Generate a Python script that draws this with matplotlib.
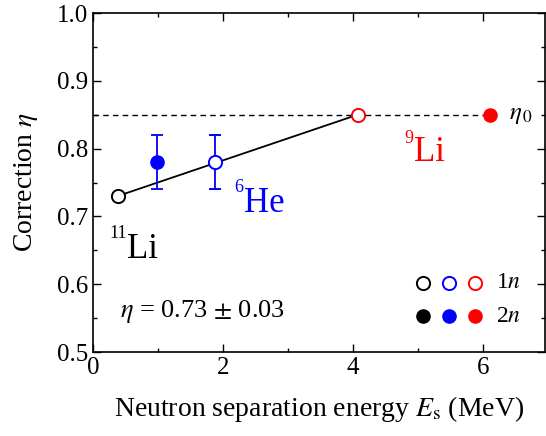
import matplotlib.pyplot as plt
from matplotlib.ticker import MultipleLocator

plt.rcParams['font.family'] = ['Liberation Serif', 'DejaVu Serif']
plt.rcParams['mathtext.fontset'] = 'stix'

# data
li11_x, li11_y = 0.38, 0.73
he6_open_x, he6_open_y, he6_open_err = 1.87, 0.78, 0.04
he6_fill_x, he6_fill_y, he6_fill_err = 0.98, 0.78, 0.04
li9_open_x, li9_open_y = 4.07, 0.85
li9_fill_x, li9_fill_y = 6.1, 0.85
eta0 = 0.85

legend_x = [5.08, 5.48, 5.87]
legend_colors = ['black', 'blue', 'red']
legend_y_1n, legend_y_2n = 0.602, 0.553

fig = plt.figure(figsize=(5.46, 4.36), dpi=100)
ax = fig.add_axes([93 / 546, 1 - 352 / 436, 452 / 546, 339 / 436])

ms = 9.5
mew = 1.4

# dashed eta0 line and fit line
ax.plot([0, li9_fill_x], [eta0, eta0], 'k--', lw=1.0, dashes=(4, 3), zorder=1)
ax.plot([li11_x, li9_open_x], [li11_y, li9_open_y], 'k-', lw=1.3, zorder=1)

ax.errorbar([he6_fill_x], [he6_fill_y], yerr=[he6_fill_err], fmt='o', color='blue',
            ms=ms, capsize=4, elinewidth=1.3, capthick=1.3, zorder=3)
ax.errorbar([he6_open_x], [he6_open_y], yerr=[he6_open_err], fmt='o', color='blue',
            mfc='white', mec='blue', mew=mew, ms=ms, capsize=4, elinewidth=1.3,
            capthick=1.3, zorder=3)
ax.plot([li11_x], [li11_y], 'o', mfc='white', mec='black', mew=mew, ms=ms, zorder=3)
ax.plot([li9_open_x], [li9_open_y], 'o', mfc='white', mec='red', mew=mew, ms=ms, zorder=3)
ax.plot([li9_fill_x], [li9_fill_y], 'o', color='red', ms=ms, zorder=3)

# legend-like markers
for x, c in zip(legend_x, legend_colors):
    ax.plot([x], [legend_y_1n], 'o', mfc='white', mec=c, mew=mew, ms=ms)
    ax.plot([x], [legend_y_2n], 'o', color=c, ms=ms)
ax.text(6.2, legend_y_1n, r'1$\it{n}$', fontsize=17, va='center')
ax.text(6.2, legend_y_2n, r'2$\it{n}$', fontsize=17, va='center')

# nucleus labels: element + mass number as superscript
ax.text(0.53, 0.639, 'Li', fontsize=25, va='baseline')
ax.text(0.52, 0.668, '11', fontsize=13, va='baseline', ha='right')
ax.text(2.32, 0.706, 'He', fontsize=25, va='baseline', color='blue')
ax.text(2.31, 0.736, '6', fontsize=13, va='baseline', ha='right', color='blue')
ax.text(4.93, 0.781, 'Li', fontsize=25, va='baseline', color='red')
ax.text(4.92, 0.808, '9', fontsize=13, va='baseline', ha='right', color='red')

ax.text(6.4, 0.85, r'$\eta_{\,0}$', fontsize=18, va='center')
ax.text(0.42, 0.56, r'$\eta$ = 0.73 $\pm$ 0.03', fontsize=19, va='center')

ax.set_xlim(0, 6.95)
ax.set_ylim(0.5, 1.0)
ax.xaxis.set_major_locator(MultipleLocator(2))
ax.xaxis.set_minor_locator(MultipleLocator(1))
ax.yaxis.set_major_locator(MultipleLocator(0.1))
ax.yaxis.set_minor_locator(MultipleLocator(0.05))
ax.tick_params(which='both', direction='in', top=True, right=True, labelsize=18)
ax.tick_params(which='major', length=6, width=1)
ax.tick_params(which='minor', length=3, width=1)
ax.set_yticks([0.5, 0.6, 0.7, 0.8, 0.9, 1.0])
ax.set_yticklabels(['0.5', '0.6', '0.7', '0.8', '0.9', '1.0'])
for s in ax.spines.values():
    s.set_linewidth(1.2)

ax.set_xlabel(r'Neutron separation energy $\it{E}_{\rm s}$ (MeV)', fontsize=20, labelpad=11)
ax.set_ylabel(r'Correction $\eta$', fontsize=20, labelpad=12)

fig.savefig('out.png', dpi=100)
